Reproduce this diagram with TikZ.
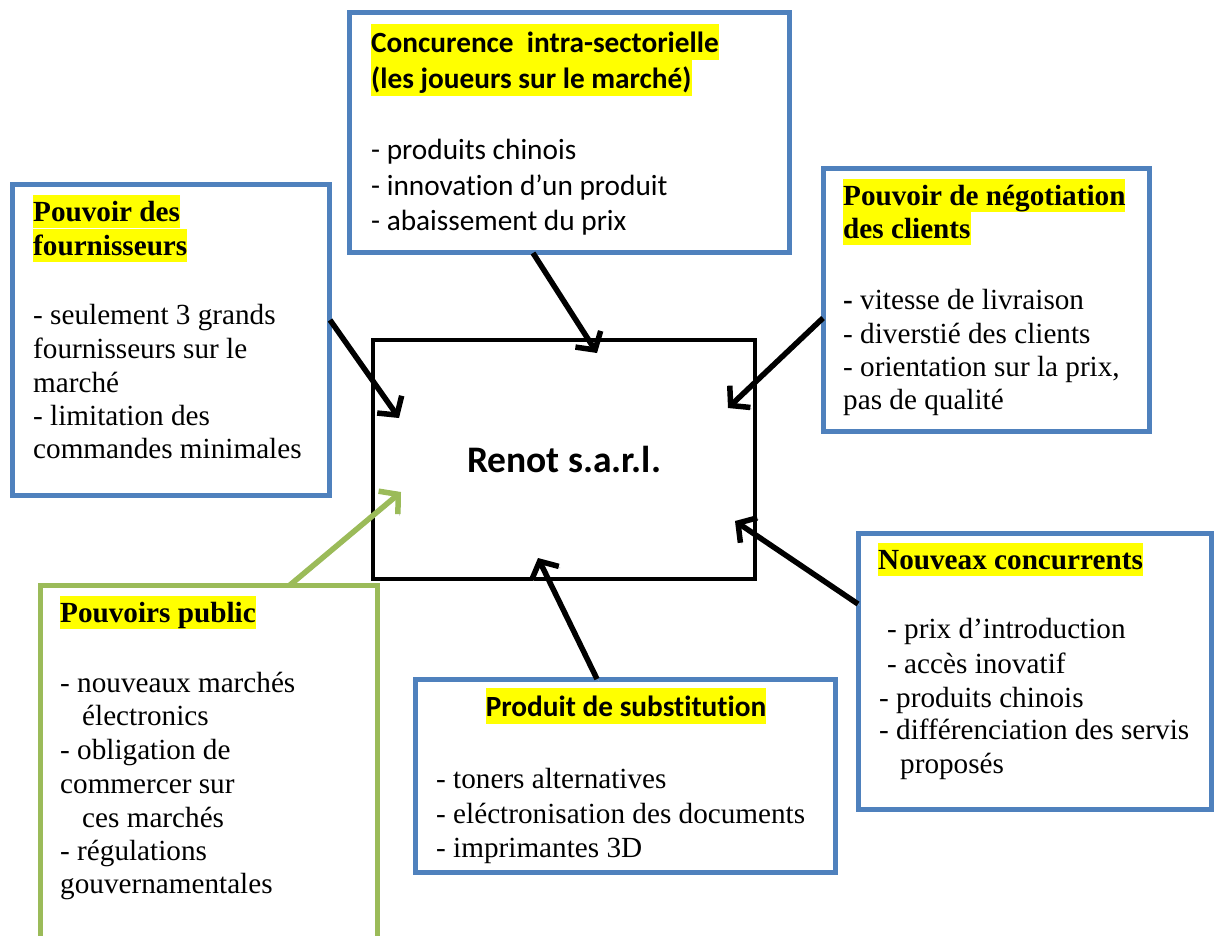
\documentclass[tikz,border=0pt]{standalone}
\usepackage{fontspec}
\setmainfont{Liberation Serif}
\newfontfamily\calfont[Ligatures=NoCommon]{Carlito}
\usetikzlibrary{arrows.meta,fit}
\definecolor{boxblue}{HTML}{4F81BD}
\definecolor{boxgreen}{HTML}{9BBB59}
\definecolor{hlyellow}{HTML}{FFFF00}
\tikzset{
  bbox/.style={draw=boxblue, line width=5pt, inner sep=0pt, fill=white},
  gbox/.style={draw=boxgreen, line width=5pt, inner sep=0pt, fill=white},
  cbox/.style={draw=black, line width=4.5pt, inner sep=0pt, fill=white},
  tms/.style={anchor=base west, inner sep=0pt, font=\fontsize{29.2pt}{33.5pt}\selectfont},
  tmsh/.style={tms, font=\fontsize{29.2pt}{33.5pt}\selectfont\bfseries, fill=hlyellow, text height=26.5pt, text depth=7pt},
  cal/.style={anchor=base west, inner sep=0pt, font=\calfont\fontsize{29.3pt}{35.5pt}\selectfont},
  calh/.style={cal, font=\calfont\fontsize{29.3pt}{35.5pt}\selectfont\bfseries, fill=hlyellow, text height=28pt, text depth=8pt},
  arr/.style={line width=5.5pt, -{Straight Barb[length=13pt,width=30pt]},
    preaction={draw=gray!55, transform canvas={shift={(1.5pt,-1.5pt)}}}},
  garr/.style={arr, draw=boxgreen}
}
\begin{document}
\begin{tikzpicture}[x=1pt,y=-1pt]
\useasboundingbox (0,0) rectangle (1217,935);
\clip (0,0) rectangle (1217,935);
% boxes
\node[bbox, fit={(349.5,12.5) (789.5,252.5)}] (concur) {};
\node[bbox, fit={(12.5,184.5) (329.5,495.5)}] (fourn) {};
\node[bbox, fit={(823.5,168.5) (1149.5,431.5)}] (clients) {};
\node[bbox, fit={(858.5,533.5) (1211.5,809.5)}] (nouv) {};
\node[bbox, fit={(415.5,679.5) (835.5,872.5)}] (subst) {};
\node[gbox, fit={(40.5,585.5) (377.5,960)}] (public) {};
\node[cbox, fit={(373,340) (755,579)}] (renot) {};
\node[anchor=base, inner sep=0pt, font=\calfont\fontsize{37.5pt}{42pt}\selectfont\bfseries] (renottxt) at (564,472) {Renot s.a.r.l.};
% texts: concurrence
\node[calh] (c1) at (371,52) {Concurence~ intra-sectorielle};
\node[calh] (c2) at (371,88) {(les joueurs sur le marché)};
\node[cal] (c3) at (371,159) {- produits chinois};
\node[cal] (c4) at (371,195) {- innovation d’un produit};
\node[cal] (c5) at (371,230) {- abaissement du prix};
% fournisseurs
\node[tmsh] (f1) at (33,221) {Pouvoir des};
\node[tmsh] (f2) at (33,255) {fournisseurs};
\node[tms] (f3) at (33,324) {- seulement 3 grands};
\node[tms] (f4) at (33,358) {fournisseurs sur le};
\node[tms] (f5) at (33,392) {marché};
\node[tms] (f6) at (33,425) {- limitation des};
\node[tms] (f7) at (33,458) {commandes minimales};
% clients
\node[tmsh] (k1) at (843,205) {Pouvoir de négotiation};
\node[tmsh] (k2) at (843,238) {des clients};
\node[tms] (k3) at (843,309) {\textbf{-} vitesse de livraison};
\node[tms] (k4) at (843,343) {- diverstié des clients};
\node[tms] (k5) at (843,376) {- orientation sur la prix,};
\node[tms] (k6) at (843,409) {pas de qualité};
% nouveaux
\node[tmsh] (n1) at (878,569) {Nouveax concurrents};
\node[tms] (n2) at (887,638) {- prix d’introduction};
\node[tms] (n3) at (887,673) {- accès inovatif};
\node[tms] (n4) at (879,707) {- produits chinois};
\node[tms] (n5) at (879,739) {- différenciation des servis};
\node[tms] (n6) at (900,773) {proposés};
% public
\node[tmsh] (p1) at (60,622) {Pouvoirs public};
\node[tms] (p2) at (60,692) {- nouveaux marchés};
\node[tms] (p3) at (82,725) {électronics};
\node[tms] (p4) at (60,759) {- obligation de};
\node[tms] (p5) at (60,793) {commercer sur};
\node[tms] (p6) at (82,827) {ces marchés};
\node[tms] (p7) at (60,860) {- régulations};
\node[tms] (p8) at (60,893) {gouvernamentales};
% substitution
\node[calh, anchor=base] (s1) at (626,716) {Produit de substitution};
\node[tms] (s2) at (436,788) {- toners alternatives};
\node[tms] (s3) at (436,823) {- eléctronisation des documents};
\node[tms] (s4) at (436,857) {- imprimantes 3D};
% arrow end points
\coordinate (a1s) at (533,253); \coordinate (a1e) at (597,353);
\coordinate (a2s) at (330,320); \coordinate (a2e) at (399,418);
\coordinate (a3s) at (823,318); \coordinate (a3e) at (728,408);
\coordinate (a4s) at (858,604); \coordinate (a4e) at (735,521);
\coordinate (a5s) at (597,679); \coordinate (a5e) at (538,558);
\coordinate (a6s) at (290,585); \coordinate (a6e) at (401,492);
\draw[arr] (a1s) -- (a1e);
\draw[arr] (a2s) -- (a2e);
\draw[arr] (a3s) -- (a3e);
\draw[arr] (a4s) -- (a4e);
\draw[arr] (a5s) -- (a5e);
\draw[garr] (a6s) -- (a6e);
\end{tikzpicture}
\end{document}
